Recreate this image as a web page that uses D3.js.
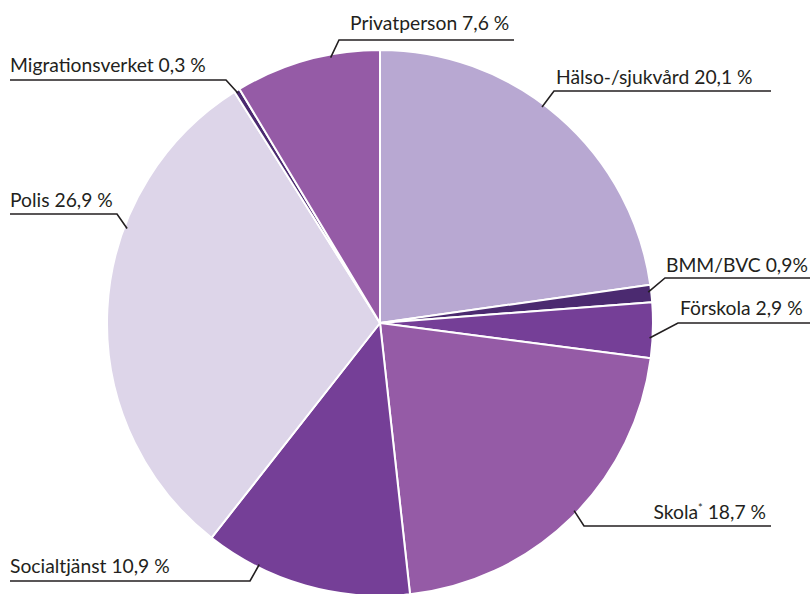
<!DOCTYPE html>
<html><head><meta charset="utf-8">
<script src="https://cdn.jsdelivr.net/npm/d3@7"></script>
<style>
html,body{margin:0;padding:0;background:#fff;}
svg{display:block;font-family:Lato,"Open Sans",sans-serif;}
</style></head>
<body>
<svg id="chart" width="810" height="594"></svg>
<script>
// ---- data ----
const categories = ["Hälso-/sjukvård","BMM/BVC","Förskola","Skola","Socialtjänst","Polis","Migrationsverket","Privatperson"];
const values = [20.1, 0.9, 2.9, 18.7, 10.9, 26.9, 0.3, 7.6];
const labelTexts = ["Hälso-/sjukvård 20,1 %","BMM/BVC 0,9%","Förskola 2,9 %","Skola|* 18,7 %","Socialtjänst 10,9 %","Polis 26,9 %","Migrationsverket 0,3 %","Privatperson 7,6 %"];

// ---- styles / layout ----
const colors = ["#b8a8d2","#4b2a70","#753f97","#955ba6","#753f97","#ddd5e9","#4b2a70","#955ba6"];
const cx = 380, cy = 323, R = 273;
const labelLayout = [
  {f:0.45, ex:554, ey:91,  lx:771, tx:556, ty:84,  anchor:"start"},
  {f:0.40, ex:665, ey:278, lx:810, tx:666, ty:272, anchor:"start"},
  {f:0.64, ex:678, ey:323, lx:810, tx:680, ty:315, anchor:"start"},
  {f:0.48, ex:584, ey:526, lx:771, tx:766, ty:519, anchor:"end"},
  {f:0.74, ex:250, ey:581, lx:10,  tx:10,  ty:573, anchor:"start"},
  {f:0.66, ex:117, ey:214, lx:10,  tx:10,  ty:207, anchor:"start"},
  {f:0.40, ex:226, ey:80,  lx:10,  tx:10,  ty:72,  anchor:"start"},
  {f:0.66, ex:339, ey:40,  lx:514, tx:350, ty:30,  anchor:"start"}
];

const svg = d3.select("#chart");
const color = d3.scaleOrdinal().domain(categories).range(colors);
const pie = d3.pie().sort(null).value((d,i)=>values[i]);
const arcs = pie(categories);
const arc = d3.arc().innerRadius(0).outerRadius(R);

const g = svg.append("g").attr("transform",`translate(${cx},${cy})`);
g.selectAll("path").data(arcs).join("path")
  .attr("d",arc)
  .attr("fill",d=>color(d.data))
  .attr("stroke","#fff")
  .attr("stroke-width",2)
  .attr("stroke-linejoin","round");

const lines = svg.append("g");
arcs.forEach((a,i)=>{
  const L = labelLayout[i];
  const ang = a.startAngle + (a.endAngle - a.startAngle)*L.f;
  const r = R - 3;
  const px = cx + r*Math.sin(ang), py = cy - r*Math.cos(ang);
  lines.append("polyline")
    .attr("points",`${px},${py} ${L.ex},${L.ey} ${L.lx},${L.ey}`)
    .attr("fill","none").attr("stroke","#231f20").attr("stroke-width",1.6);
  const t = lines.append("text")
    .attr("x",L.tx).attr("y",L.ty)
    .attr("text-anchor",L.anchor)
    .attr("font-size",19.3)
    .attr("fill","#231f20");
  const parts = labelTexts[i].split("|");
  if(parts.length>1){
    t.append("tspan").text(parts[0]);
    t.append("tspan").text(parts[1][0]).attr("font-size",11).attr("dy",-7);
    t.append("tspan").text(parts[1].slice(1)).attr("dy",7);
  } else {
    t.text(parts[0]);
  }
});
</script>
</body></html>
